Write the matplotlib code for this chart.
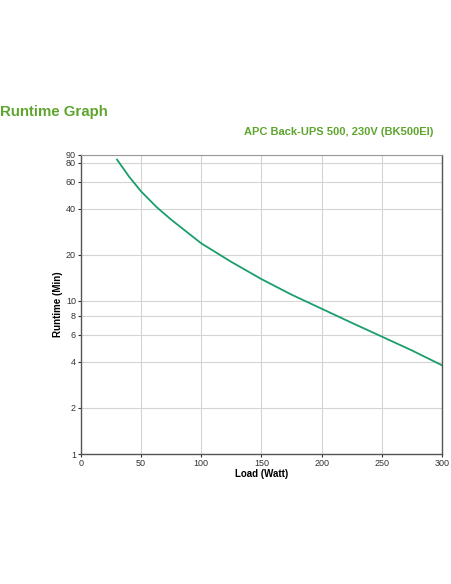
import numpy as np
import matplotlib.pyplot as plt
from matplotlib.ticker import FixedLocator, NullLocator

plt.rcParams["font.family"] = ["Liberation Sans", "DejaVu Sans"]

# ==========================================================
# DATA
# ==========================================================
load_watt = [30, 40, 50, 63, 75, 100, 125, 150, 175, 200, 225, 250, 275, 300]
runtime_min = [84, 65, 52, 41, 34, 23.8, 18, 13.9, 11.0, 8.9, 7.2, 5.85, 4.75, 3.8]
x_ticks = [0, 50, 100, 150, 200, 250, 300]
y_ticks = [1, 2, 4, 6, 8, 10, 20, 40, 60, 80, 90]

GREEN = "#5ea52e"
LINE = "#1a9e6a"

# ==========================================================
# PLOT
# ==========================================================
fig = plt.figure(figsize=(4.52, 5.84), dpi=100)
ax = fig.add_axes([0.179, 0.2226, 0.799, 0.512])

ax.plot(load_watt, runtime_min, color=LINE, lw=1.3)
ax.set_yscale("log")
ax.set_xlim(0, 300)
ax.set_ylim(1, 90)
ax.yaxis.set_major_locator(FixedLocator(y_ticks))
ax.yaxis.set_minor_locator(NullLocator())
ax.set_yticklabels([str(v) for v in y_ticks])
ax.set_xticks(x_ticks)

ax.grid(True, color="#d4d4d4", lw=0.8)
ax.set_axisbelow(True)
ax.spines["top"].set_color("#999999")
for s in ["left", "bottom", "right"]:
    ax.spines[s].set_color("#555555")
    ax.spines[s].set_linewidth(1.0)
ax.tick_params(labelsize=6.5, colors="#333333", length=2, pad=1.5)

ax.set_xlabel("Load (Watt)", fontsize=7, fontweight="bold", labelpad=1)
ax.set_ylabel("Runtime (Min)", fontsize=7, fontweight="bold", labelpad=2)

fig.text(0.0, 0.809, "Runtime Graph", fontsize=10.8, fontweight="bold",
         color=GREEN, va="center", ha="left")
fig.text(0.958, 0.774, "APC Back-UPS 500, 230V (BK500EI)", fontsize=8,
         fontweight="bold", color=GREEN, va="center", ha="right")

fig.savefig("out.png", dpi=100, facecolor="white")
